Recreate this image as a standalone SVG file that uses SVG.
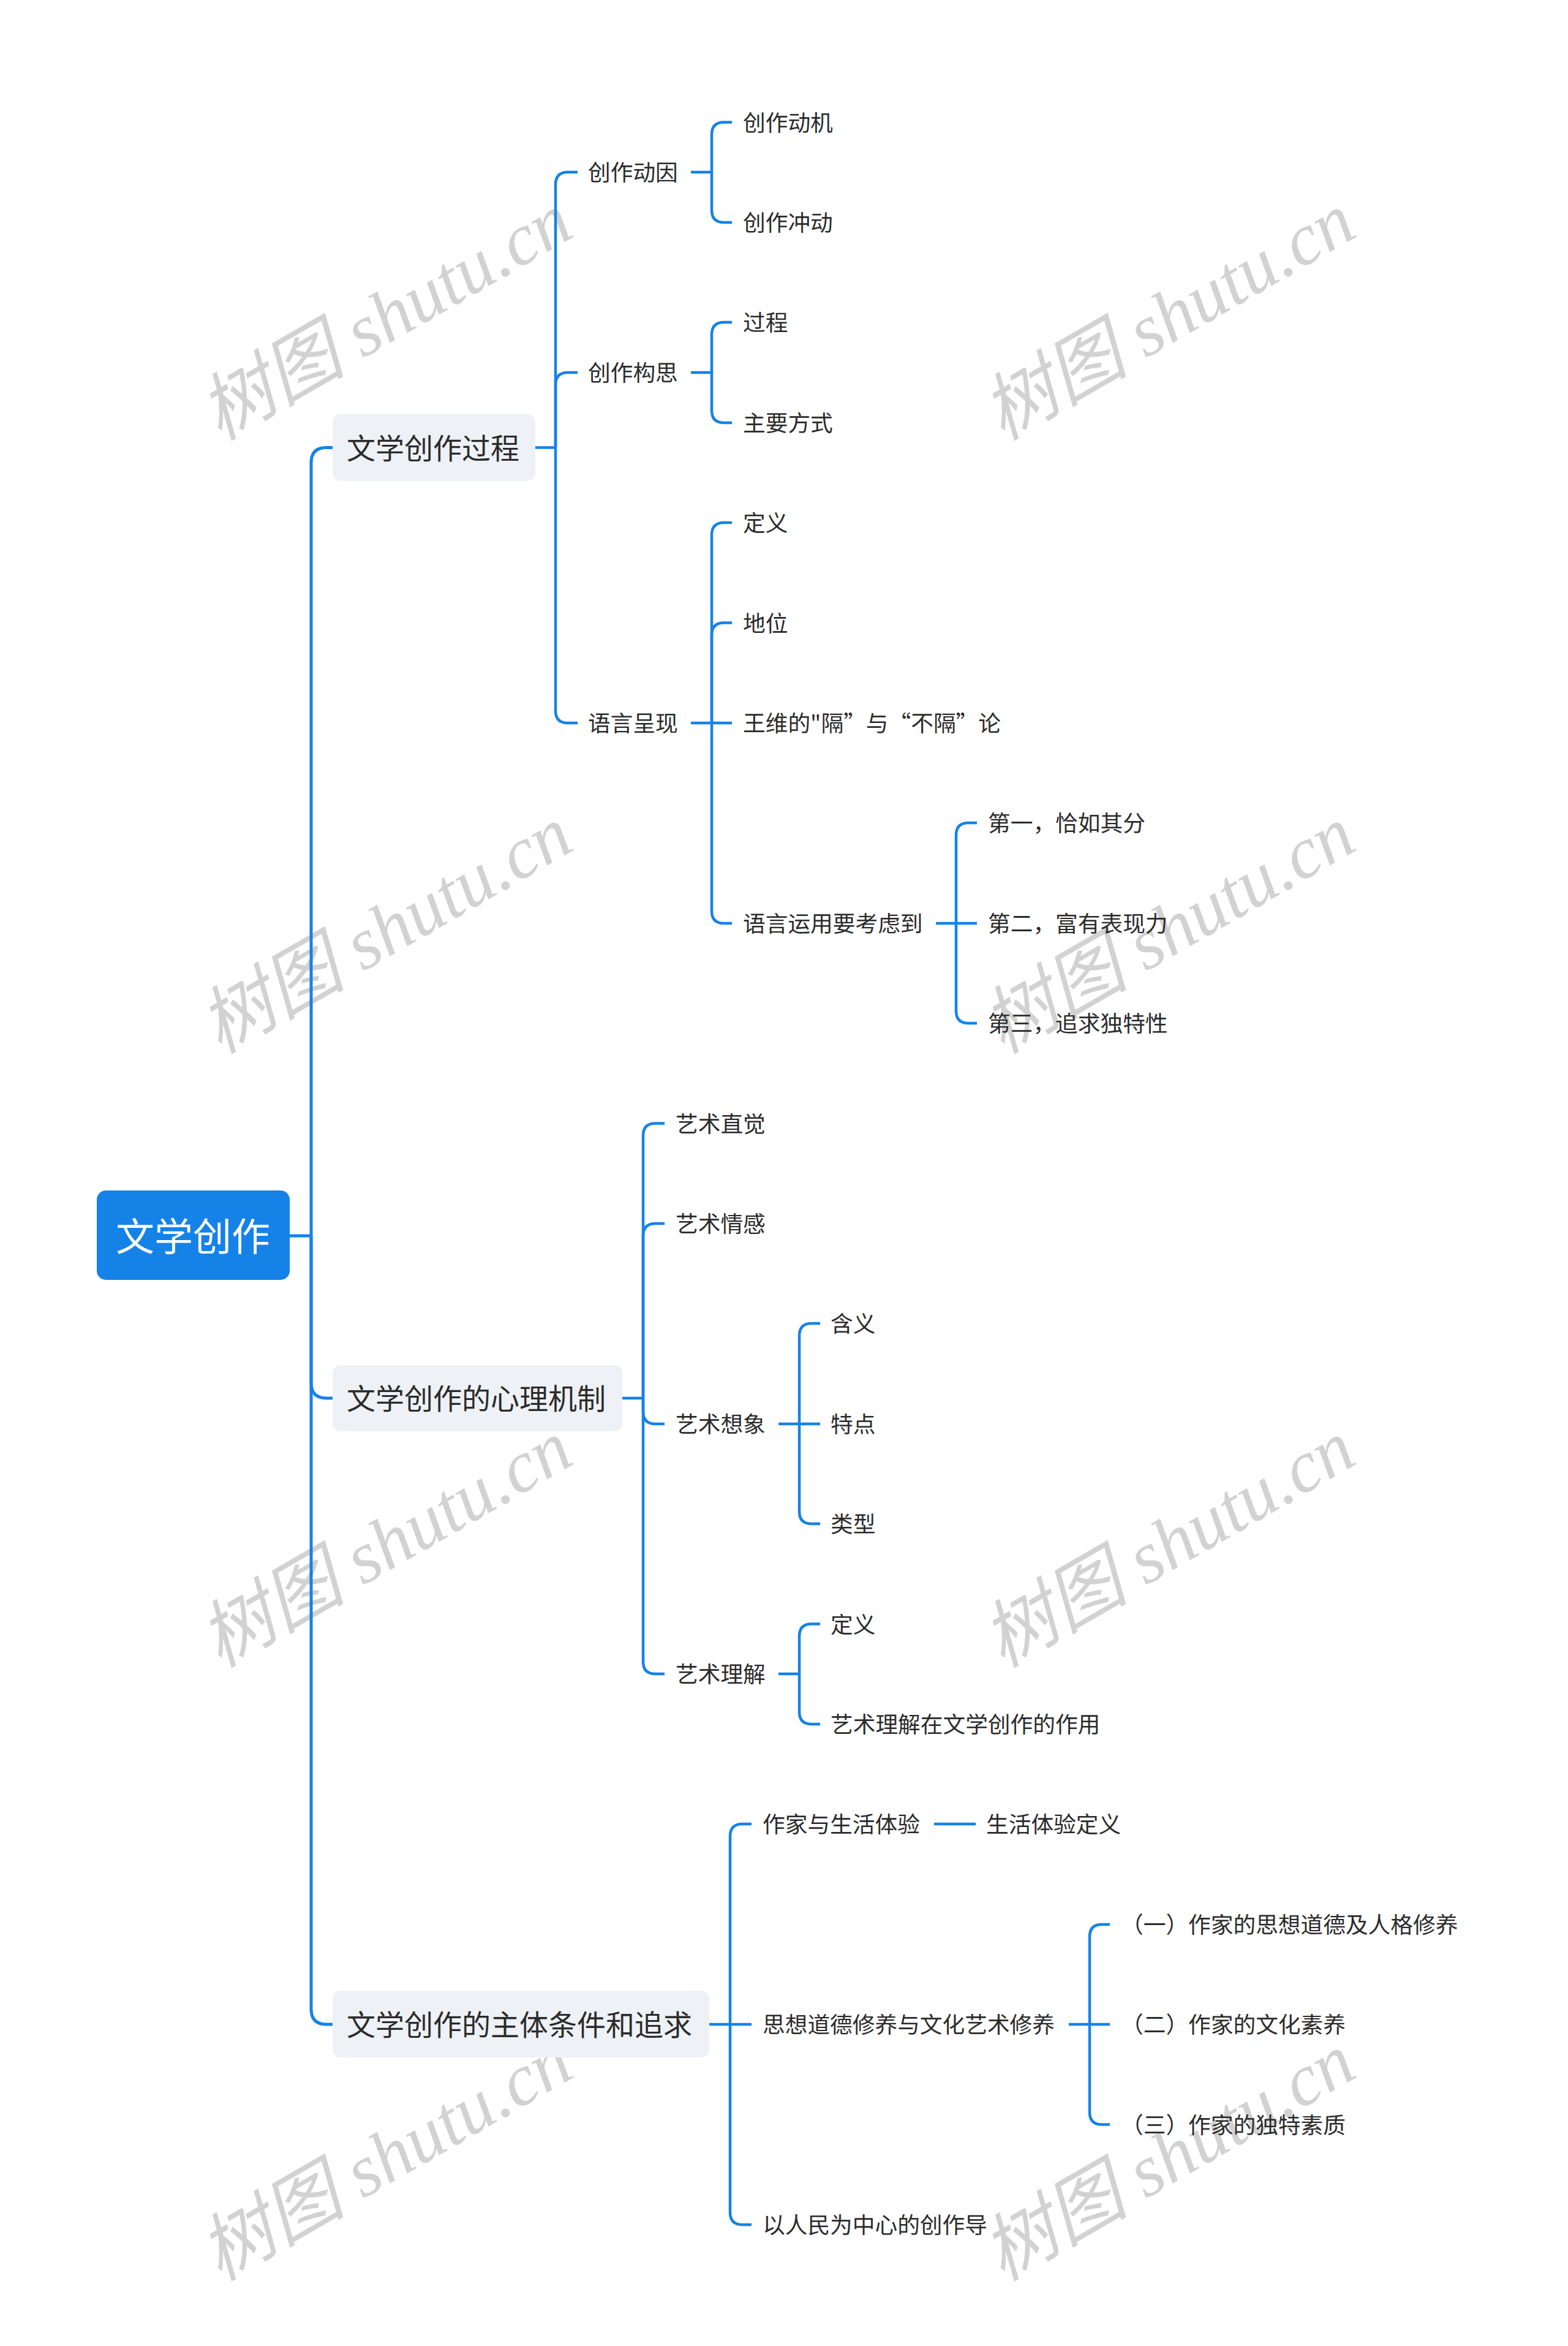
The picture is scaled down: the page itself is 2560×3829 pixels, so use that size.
<svg xmlns="http://www.w3.org/2000/svg" width="2560" height="3829" viewBox="0 0 2560 3829">
<style>
.wm{font-family:"Liberation Serif","Noto Sans CJK SC",serif;font-style:italic;font-size:120px;fill:#d2d2d2;}
.ln{fill:none;stroke:#1582e8;stroke-width:4.5;}
.lm{fill:none;stroke:#1582e8;stroke-width:5;}
.t{font-family:"Noto Sans CJK SC","Liberation Sans",sans-serif;font-size:36.7px;fill:#2b2b2b;}
.t1{font-family:"Noto Sans CJK SC","Liberation Sans",sans-serif;font-size:47px;fill:#2b2b2b;}
.t0{font-family:"Noto Sans CJK SC","Liberation Sans",sans-serif;font-size:63px;fill:#ffffff;}
.b1{fill:#eef1f5;}
</style>
<rect width="2560" height="3829" fill="#ffffff"/>
<g id="watermarks">
<text class="wm" text-anchor="middle" transform="translate(650,552) rotate(-30)">树图 shutu.cn</text>
<text class="wm" text-anchor="middle" transform="translate(1928,552) rotate(-30)">树图 shutu.cn</text>
<text class="wm" text-anchor="middle" transform="translate(650,1553) rotate(-30)">树图 shutu.cn</text>
<text class="wm" text-anchor="middle" transform="translate(1928,1553) rotate(-30)">树图 shutu.cn</text>
<text class="wm" text-anchor="middle" transform="translate(650,2555) rotate(-30)">树图 shutu.cn</text>
<text class="wm" text-anchor="middle" transform="translate(1928,2555) rotate(-30)">树图 shutu.cn</text>
<text class="wm" text-anchor="middle" transform="translate(650,3556) rotate(-30)">树图 shutu.cn</text>
<text class="wm" text-anchor="middle" transform="translate(1928,3556) rotate(-30)">树图 shutu.cn</text>
</g>
<g id="connectors">
<path class="lm" d="M473,2017 H508"/>
<path class="lm" d="M508,2017 V755.5 Q508,730.5 533,730.5 H543"/>
<path class="lm" d="M508,2017 V2257 Q508,2282 533,2282 H543"/>
<path class="lm" d="M508,2017 V3279 Q508,3304 533,3304 H543"/>
<path class="ln" d="M874,730.5 H907"/>
<path class="ln" d="M907,730.5 V301 Q907,281 927,281 H943"/>
<path class="ln" d="M907,730.5 V628 Q907,608 927,608 H943"/>
<path class="ln" d="M907,730.5 V1160 Q907,1180 927,1180 H943"/>
<path class="ln" d="M1128,281 H1162"/>
<path class="ln" d="M1162,281 V219.5 Q1162,199.5 1182,199.5 H1195"/>
<path class="ln" d="M1162,281 V343 Q1162,363 1182,363 H1195"/>
<path class="ln" d="M1128,608 H1162"/>
<path class="ln" d="M1162,608 V546 Q1162,526 1182,526 H1195"/>
<path class="ln" d="M1162,608 V670 Q1162,690 1182,690 H1195"/>
<path class="ln" d="M1128,1180 H1162"/>
<path class="ln" d="M1162,1180 V873 Q1162,853 1182,853 H1195"/>
<path class="ln" d="M1162,1180 V1036.5 Q1162,1016.5 1182,1016.5 H1195"/>
<path class="ln" d="M1162,1180 H1195"/>
<path class="ln" d="M1162,1180 V1487 Q1162,1507 1182,1507 H1195"/>
<path class="ln" d="M1528,1507 H1561"/>
<path class="ln" d="M1561,1507 V1363 Q1561,1343 1581,1343 H1595"/>
<path class="ln" d="M1561,1507 H1595"/>
<path class="ln" d="M1561,1507 V1650 Q1561,1670 1581,1670 H1595"/>
<path class="ln" d="M1016,2282 H1050"/>
<path class="ln" d="M1050,2282 V1853.5 Q1050,1833.5 1070,1833.5 H1085"/>
<path class="ln" d="M1050,2282 V2017 Q1050,1997 1070,1997 H1085"/>
<path class="ln" d="M1050,2282 V2304 Q1050,2324 1070,2324 H1085"/>
<path class="ln" d="M1050,2282 V2712 Q1050,2732 1070,2732 H1085"/>
<path class="ln" d="M1271,2324 H1305"/>
<path class="ln" d="M1305,2324 V2180 Q1305,2160 1325,2160 H1339"/>
<path class="ln" d="M1305,2324 H1339"/>
<path class="ln" d="M1305,2324 V2467 Q1305,2487 1325,2487 H1339"/>
<path class="ln" d="M1271,2732 H1305"/>
<path class="ln" d="M1305,2732 V2670.5 Q1305,2650.5 1325,2650.5 H1339"/>
<path class="ln" d="M1305,2732 V2794 Q1305,2814 1325,2814 H1339"/>
<path class="ln" d="M1158,3304 H1192"/>
<path class="ln" d="M1192,3304 V2997 Q1192,2977 1212,2977 H1227"/>
<path class="ln" d="M1192,3304 H1227"/>
<path class="ln" d="M1192,3304 V3611 Q1192,3631 1212,3631 H1227"/>
<path class="ln" d="M1525,2977 H1593"/>
<path class="ln" d="M1745,3304 H1779"/>
<path class="ln" d="M1779,3304 V3161 Q1779,3141 1799,3141 H1812"/>
<path class="ln" d="M1779,3304 H1812"/>
<path class="ln" d="M1779,3304 V3447.5 Q1779,3467.5 1799,3467.5 H1812"/>
</g>
<g id="root"><rect x="158" y="1943" width="315" height="146" rx="15" fill="#1582e8"/><text class="t0" x="189" y="2041">文学创作</text></g>
<g id="n1"><rect class="b1" x="543" y="676" width="331" height="109" rx="13"/><text class="t1" x="566" y="748.5">文学创作过程</text></g>
<g id="n2"><rect class="b1" x="543" y="2228" width="473" height="108" rx="13"/><text class="t1" x="566" y="2300">文学创作的心理机制</text></g>
<g id="n3"><rect class="b1" x="543" y="3249" width="615" height="109" rx="13"/><text class="t1" x="566" y="3322">文学创作的主体条件和追求</text></g>
<g id="n1-1"><text class="t" x="960" y="295">创作动因</text></g>
<g id="n1-1-1"><text class="t" x="1213" y="213.5">创作动机</text></g>
<g id="n1-1-2"><text class="t" x="1213" y="377">创作冲动</text></g>
<g id="n1-2"><text class="t" x="960" y="622">创作构思</text></g>
<g id="n1-2-1"><text class="t" x="1213" y="540">过程</text></g>
<g id="n1-2-2"><text class="t" x="1213" y="704">主要方式</text></g>
<g id="n1-3"><text class="t" x="960" y="1194">语言呈现</text></g>
<g id="n1-3-1"><text class="t" x="1213" y="867">定义</text></g>
<g id="n1-3-2"><text class="t" x="1213" y="1030.5">地位</text></g>
<g id="n1-3-3"><text class="t" x="1213" y="1194">王维的"隔”与“不隔”论</text></g>
<g id="n1-3-4"><text class="t" x="1213" y="1521">语言运用要考虑到</text></g>
<g id="n1-3-4-1"><text class="t" x="1613" y="1357">第一，恰如其分</text></g>
<g id="n1-3-4-2"><text class="t" x="1613" y="1521">第二，富有表现力</text></g>
<g id="n1-3-4-3"><text class="t" x="1613" y="1684">第三，追求独特性</text></g>
<g id="n2-1"><text class="t" x="1103" y="1847.5">艺术直觉</text></g>
<g id="n2-2"><text class="t" x="1103" y="2011">艺术情感</text></g>
<g id="n2-3"><text class="t" x="1103" y="2338">艺术想象</text></g>
<g id="n2-3-1"><text class="t" x="1356" y="2174">含义</text></g>
<g id="n2-3-2"><text class="t" x="1356" y="2338">特点</text></g>
<g id="n2-3-3"><text class="t" x="1356" y="2501">类型</text></g>
<g id="n2-4"><text class="t" x="1103" y="2746">艺术理解</text></g>
<g id="n2-4-1"><text class="t" x="1356" y="2664.5">定义</text></g>
<g id="n2-4-2"><text class="t" x="1356" y="2828">艺术理解在文学创作的作用</text></g>
<g id="n3-1"><text class="t" x="1245" y="2991">作家与生活体验</text></g>
<g id="n3-1-1"><text class="t" x="1610" y="2991">生活体验定义</text></g>
<g id="n3-2"><text class="t" x="1245" y="3318">思想道德修养与文化艺术修养</text></g>
<g id="n3-2-1"><text class="t" x="1830" y="3155">（一）作家的思想道德及人格修养</text></g>
<g id="n3-2-2"><text class="t" x="1830" y="3318">（二）作家的文化素养</text></g>
<g id="n3-2-3"><text class="t" x="1830" y="3481.5">（三）作家的独特素质</text></g>
<g id="n3-3"><text class="t" x="1245" y="3645">以人民为中心的创作导</text></g>
</svg>
